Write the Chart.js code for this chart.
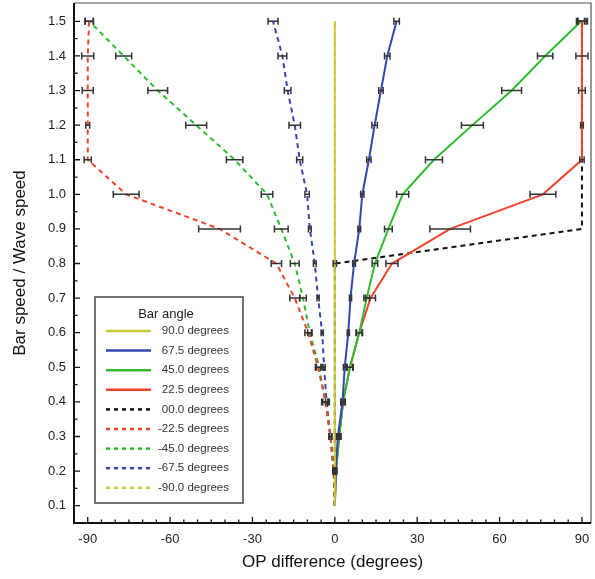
<!DOCTYPE html>
<html>
<head>
<meta charset="utf-8">
<script src="https://cdn.jsdelivr.net/npm/chart.js"></script>
<style>
  html, body { margin: 0; padding: 0; background: #fff; }
  #wrap { width: 595px; height: 579px; }
</style>
</head>
<body>
<div id="wrap"><canvas id="chart"></canvas></div>
<script>
// Bar speed / wave speed (y) against OP difference (x)
const speeds = [0.1, 0.2, 0.3, 0.4, 0.5, 0.6, 0.7, 0.8, 0.9, 1.0, 1.1, 1.2, 1.3, 1.4, 1.5];
const xTicks = [-90, -60, -30, 0, 30, 60, 90];
const yTicks = [0.1, 0.2, 0.3, 0.4, 0.5, 0.6, 0.7, 0.8, 0.9, 1.0, 1.1, 1.2, 1.3, 1.4, 1.5];

const op90 = [0, 0, 0, 0, 0, 0, 0, 0, 0, 0, 0, 0, 0, 0, 0];
const op67 = [0, 0.3, 1.1, 2.8, 3.6, 4.9, 5.7, 7.0, 8.9, 10.0, 12.4, 14.5, 16.8, 19.1, 22.5];
const op45 = [0, 0.4, 1.6, 3.0, 5.5, 8.9, 11.6, 14.6, 19.5, 24.7, 36.1, 50.1, 64.4, 76.6, 89.7];
const op22 = [0, 0.4, 1.6, 3.0, 5.5, 8.9, 13.0, 20.8, 42.0, 75.8, 90, 90, 90, 90, 90];
const op00 = [0, 0, 0, 0, 0, 0, 0, 0, 90, 90, 90, 90, 90, 90, 90];
const opM22 = [0, -0.4, -1.6, -3.4, -6.1, -9.7, -14.6, -21.3, -42.0, -76.0, -90, -90, -90, -90, -89.5];
const opM45 = [0, -0.4, -1.6, -3.4, -5.7, -9.1, -11.6, -14.6, -19.5, -24.7, -36.5, -50.5, -64.5, -76.9, -89.4];
const opM67 = [0, -0.4, -1.6, -3.0, -3.9, -4.6, -6.1, -7.3, -9.1, -10.1, -12.8, -14.6, -17.2, -19.1, -22.5];
const opM90 = [0, 0, 0, 0, 0, 0, 0, 0, 0, 0, 0, 0, 0, 0, 0];

// half widths of the horizontal error bars (degrees)
const err90 = [0, 0, 0, 0, 0, 0, 0, 0, 0, 0, 0, 0, 0, 0, 0];
const err67 = [0, 0.3, 0.5, 0.5, 0.5, 0.4, 0.4, 0.5, 0.5, 0.6, 0.8, 1.0, 0.8, 1.0, 1.0];
const err45 = [0, 0.3, 0.6, 0.8, 1.0, 1.0, 1.0, 1.0, 1.4, 2.2, 3.1, 4.0, 3.6, 2.8, 1.2];
const err22 = [0, 0.3, 0.6, 0.8, 1.2, 1.2, 1.8, 2.2, 7.4, 4.7, 0.8, 0.5, 1.2, 2.2, 2.0];
const err00 = [0, 0, 0, 0, 0, 0, 0, 0.6, 0, 0, 0, 0, 0, 0, 1.5];
const errM22 = [0, 0.3, 0.5, 1.4, 1.0, 1.2, 1.8, 1.9, 7.6, 4.7, 1.3, 0.7, 2.0, 2.2, 1.5];
const errM45 = [0, 0.3, 0.5, 1.0, 1.0, 0.8, 1.2, 1.6, 2.5, 2.1, 3.0, 3.8, 3.6, 2.9, 1.5];
const errM67 = [0, 0.3, 0.4, 0.4, 0.4, 0.4, 0.4, 0.5, 0.5, 0.8, 1.1, 2.1, 1.2, 1.6, 1.8];
const errM90 = [0, 0, 0, 0, 0, 0, 0, 0, 0, 0, 0, 0, 0, 0, 0];

const labels = ["90.0 degrees", "67.5 degrees", "45.0 degrees", "22.5 degrees", "00.0 degrees",
    "-22.5 degrees", "-45.0 degrees", "-67.5 degrees", "-90.0 degrees"];

const yellow = "#c9c93a";
const blue = "#3447b0";
const green = "#2fbb2f";
const red = "#f0442c";
const black = "#111111";
const barCol = "#333333";

function pts(xs) {
    return xs.map((x, i) => ({ x: x, y: speeds[i] }));
}

function series(label, xs, errs, color, dashed) {
    return {
        label: label,
        data: pts(xs),
        errs: errs,
        borderColor: color,
        backgroundColor: color,
        borderWidth: 2,
        borderDash: dashed ? [5, 4] : [],
        showLine: true,
        pointRadius: 0,
        tension: 0,
    };
}

const datasets = [
    series(labels[0], op90, err90, yellow, false),
    series(labels[1], op67, err67, blue, false),
    series(labels[2], op45, err45, green, false),
    series(labels[3], op22, err22, red, false),
    series(labels[4], op00, err00, black, true),
    series(labels[5], opM22, errM22, red, true),
    series(labels[6], opM45, errM45, green, true),
    series(labels[7], opM67, errM67, blue, true),
    series(labels[8], opM90, errM90, yellow, true),
];
// yellow 90 line drawn last, on top
datasets[0].order = -1;

const errorBars = {
    id: "errorBars",
    afterDatasetsDraw(chart) {
        const ctx = chart.ctx;
        const xs = chart.scales.x, ys = chart.scales.y;
        ctx.save();
        ctx.strokeStyle = barCol;
        ctx.lineWidth = 1.5;
        chart.data.datasets.forEach((ds) => {
            ds.data.forEach((p, i) => {
                const e = ds.errs[i];
                if (!e) return;
                const py = ys.getPixelForValue(p.y);
                const x1 = xs.getPixelForValue(p.x - e);
                const x2 = xs.getPixelForValue(p.x + e);
                ctx.beginPath();
                ctx.moveTo(x1, py); ctx.lineTo(x2, py);
                ctx.moveTo(x1, py - 3.5); ctx.lineTo(x1, py + 3.5);
                ctx.moveTo(x2, py - 3.5); ctx.lineTo(x2, py + 3.5);
                ctx.stroke();
            });
        });
        ctx.restore();
    },
};

const frame = {
    id: "frame",
    afterDraw(chart) {
        const ctx = chart.ctx;
        const a = chart.chartArea;
        const xs = chart.scales.x, ys = chart.scales.y;
        ctx.save();
        // top / right border
        ctx.strokeStyle = "#555";
        ctx.lineWidth = 1.2;
        ctx.beginPath();
        ctx.moveTo(a.left, a.top); ctx.lineTo(a.right, a.top); ctx.lineTo(a.right, a.bottom);
        ctx.stroke();
        // axes
        ctx.strokeStyle = "#111";
        ctx.lineWidth = 2;
        ctx.beginPath();
        ctx.moveTo(a.left, a.top); ctx.lineTo(a.left, a.bottom); ctx.lineTo(a.right, a.bottom);
        ctx.stroke();
        // inward ticks
        ctx.lineWidth = 1.3;
        ctx.beginPath();
        for (let v = -90; v <= 90; v += 5) {
            const px = xs.getPixelForValue(v);
            const len = v % 30 === 0 ? 6 : 3.5;
            ctx.moveTo(px, a.bottom); ctx.lineTo(px, a.bottom - len);
        }
        for (let k = 2; k <= 30; k++) {
            const py = ys.getPixelForValue(k * 0.05);
            const len = k % 2 === 0 ? 6 : 3.5;
            ctx.moveTo(a.left, py); ctx.lineTo(a.left + len, py);
        }
        ctx.stroke();

        // legend box
        const bx = 95, by = 297, bw = 148, bh = 206;
        ctx.fillStyle = "#fff";
        ctx.fillRect(bx, by, bw, bh);
        ctx.strokeStyle = "#444";
        ctx.lineWidth = 1.5;
        ctx.strokeRect(bx, by, bw, bh);
        ctx.fillStyle = "#222";
        ctx.font = "13px 'Liberation Sans', Arial, sans-serif";
        ctx.textAlign = "center";
        ctx.textBaseline = "middle";
        ctx.fillText("Bar angle", bx + 71, by + 17);
        chart.data.datasets.forEach((ds, i) => {
            const ry = by + 34 + i * 19.6;
            ctx.strokeStyle = ds.borderColor;
            ctx.lineWidth = 2.5;
            ctx.setLineDash(ds.borderDash.length ? [4, 4] : []);
            ctx.beginPath();
            ctx.moveTo(bx + 11, ry); ctx.lineTo(bx + 56, ry);
            ctx.stroke();
            ctx.setLineDash([]);
            ctx.fillStyle = "#333";
            ctx.font = "11.5px 'Liberation Sans', Arial, sans-serif";
            ctx.textAlign = "right";
            ctx.fillText(ds.label, bx + 134, ry);
        });
        ctx.restore();
    },
};

Chart.defaults.font.family = "'Liberation Sans', Arial, sans-serif";
Chart.defaults.color = "#222";

new Chart(document.getElementById("chart"), {
    type: "scatter",
    data: { datasets: datasets },
    options: {
        responsive: true,
        maintainAspectRatio: false,
        animation: false,
        layout: { padding: { top: 3, right: 4, left: 0, bottom: 0 } },
        plugins: {
            legend: { display: false },
            tooltip: { enabled: false },
        },
        scales: {
            x: {
                type: "linear",
                min: -95,
                max: 93.3,
                grid: { display: false, drawTicks: false },
                border: { display: false },
                afterBuildTicks: (s) => { s.ticks = xTicks.map((v) => ({ value: v })); },
                afterFit: (s) => {
                    s.height = 56;
                    s.paddingLeft = 0;
                    s.paddingRight = 0;
                },
                ticks: { padding: 9, font: { size: 13 }, color: "#222", maxRotation: 0 },
                title: {
                    display: true,
                    text: "OP difference (degrees)",
                    font: { size: 17 },
                    color: "#111",
                    padding: { top: 0, bottom: 6 },
                },
            },
            y: {
                type: "linear",
                min: 0.05,
                max: 1.553,
                grid: { display: false, drawTicks: false },
                border: { display: false },
                afterBuildTicks: (s) => { s.ticks = yTicks.map((v) => ({ value: v })); },
                afterFit: (s) => {
                    s.width = 74;
                    s.paddingTop = 0;
                    s.paddingBottom = 0;
                },
                ticks: {
                    padding: 8,
                    font: { size: 13 },
                    color: "#222",
                    callback: (v) => Number(v).toFixed(1),
                },
                title: {
                    display: true,
                    text: "Bar speed / Wave speed",
                    font: { size: 17 },
                    color: "#111",
                    padding: { top: 10, bottom: 0 },
                },
            },
        },
    },
    plugins: [errorBars, frame],
});
</script>
</body>
</html>
